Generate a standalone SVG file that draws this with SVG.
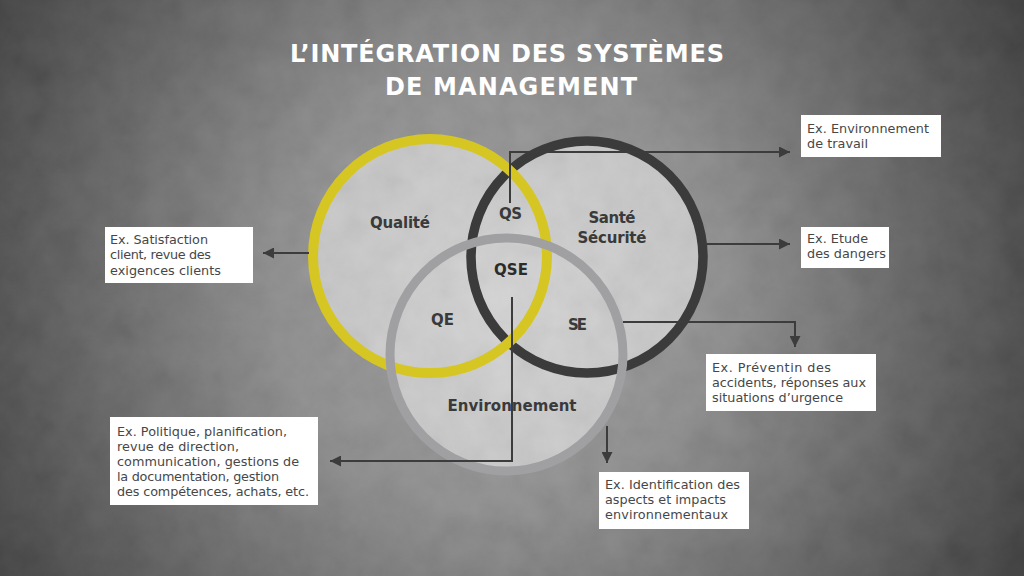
<svg xmlns="http://www.w3.org/2000/svg" width="1024" height="576" viewBox="0 0 1024 576">
<defs>
<radialGradient id="bg" gradientUnits="userSpaceOnUse" cx="500" cy="290" r="640">
<stop offset="0" stop-color="#9a9a9a"/>
<stop offset="0.35" stop-color="#888888"/>
<stop offset="0.65" stop-color="#5a5a5a"/>
<stop offset="1" stop-color="#262626"/>
</radialGradient>
<radialGradient id="cf" gradientUnits="userSpaceOnUse" cx="510" cy="300" r="220">
<stop offset="0" stop-color="#d4d4d4"/>
<stop offset="1" stop-color="#c4c4c4"/>
</radialGradient>
<filter id="noise" x="0" y="0" width="100%" height="100%">
<feTurbulence type="fractalNoise" baseFrequency="0.035" numOctaves="5" seed="7"/>
<feColorMatrix type="matrix" values="0.33 0.33 0.33 0 0  0.33 0.33 0.33 0 0  0.33 0.33 0.33 0 0  0 0 0 0 0.14"/>
</filter>
<marker id="arrow" markerUnits="userSpaceOnUse" markerWidth="11" markerHeight="11" refX="10" refY="5" orient="auto" viewBox="0 0 10 10">
<path d="M0,0 L10,5 L0,10 z" fill="#3c3c3c"/>
</marker>
<style>
.title{font-family:"DejaVu Sans","Liberation Sans",sans-serif;font-weight:bold;font-size:24px;fill:#ffffff;}
.lbl{font-family:"DejaVu Sans","Liberation Sans",sans-serif;font-weight:bold;font-size:15px;fill:#3a3a3a;text-anchor:middle;}
.ring{fill:none;}
.box{fill:#ffffff;}
.bt{font-family:"DejaVu Sans","Liberation Sans",sans-serif;font-size:12.8px;fill:#474747;}
.conn{fill:none;stroke:#3c3c3c;stroke-width:2;}
</style>
</defs>

<rect width="1024" height="576" fill="url(#bg)"/>

<g id="circle-fills">
<circle cx="430" cy="256" r="117" fill="url(#cf)"/>
<circle cx="587" cy="257" r="116" fill="url(#cf)"/>
<circle cx="506.5" cy="354.5" r="116.5" fill="url(#cf)"/>
</g>

<rect width="1024" height="576" filter="url(#noise)"/>

<g id="title">
<text class="title" x="507" y="62" text-anchor="middle" textLength="434">L’INTÉGRATION DES SYSTÈMES</text>
<text class="title" x="511" y="95" text-anchor="middle" textLength="252">DE MANAGEMENT</text>
</g>

<g id="sante-securite">
<circle class="ring" cx="587" cy="257" r="116" stroke="#3b3b3c" stroke-width="9.5"/>
<text class="lbl" x="612" y="223" textLength="47">Santé</text>
<text class="lbl" x="612" y="243" textLength="69">Sécurité</text>
</g>

<g id="qualite">
<circle class="ring" cx="430" cy="256" r="117" stroke="#d6c623" stroke-width="10"/>
<text class="lbl" x="400" y="228" textLength="60">Qualité</text>
</g>

<g id="environnement">
<circle class="ring" cx="506.5" cy="354.5" r="116.5" stroke="#a0a0a3" stroke-width="9"/>
<text class="lbl" x="512" y="411" textLength="129">Environnement</text>
</g>

<g id="qs"><text class="lbl" x="510.5" y="219" textLength="23">QS</text></g>
<g id="qse"><text class="lbl" x="511" y="275" textLength="34" style="fill:#2b2b2b;font-weight:900">QSE</text></g>
<g id="qe"><text class="lbl" x="442.5" y="325" textLength="23">QE</text></g>
<g id="se"><text class="lbl" x="577.5" y="330" textLength="19">SE</text></g>

<g id="connectors">
<path class="conn" d="M510,203 V152 H790" marker-end="url(#arrow)"/>
<path class="conn" d="M704,244 H790" marker-end="url(#arrow)"/>
<path class="conn" d="M309,253 H263" marker-end="url(#arrow)"/>
<path class="conn" d="M623,322 H795 V347" marker-end="url(#arrow)"/>
<path class="conn" d="M607,426 V463" marker-end="url(#arrow)"/>
<path class="conn" d="M512,297 V461 H330" marker-end="url(#arrow)"/>
</g>

<g id="box-environnement-travail">
<rect class="box" x="801" y="115" width="140" height="42"/>
<text class="bt" x="807" y="133" textLength="122">Ex. Environnement</text>
<text class="bt" x="807" y="148" textLength="61">de travail</text>
</g>

<g id="box-etude-dangers">
<rect class="box" x="801" y="227" width="88" height="41"/>
<text class="bt" x="807" y="243">Ex. Etude</text>
<text class="bt" x="807" y="258" textLength="79">des dangers</text>
</g>

<g id="box-prevention">
<rect class="box" x="706" y="354" width="170" height="57"/>
<text class="bt" x="712" y="372" textLength="119">Ex. Préventin des</text>
<text class="bt" x="712" y="387" textLength="154">accidents, réponses aux</text>
<text class="bt" x="712" y="402" textLength="131">situations d’urgence</text>
</g>

<g id="box-identification">
<rect class="box" x="599" y="472" width="150" height="57"/>
<text class="bt" x="605" y="489" textLength="135">Ex. Identification des</text>
<text class="bt" x="605" y="504" textLength="121">aspects et impacts</text>
<text class="bt" x="605" y="519" textLength="123">environnementaux</text>
</g>

<g id="box-satisfaction">
<rect class="box" x="105" y="227" width="148" height="56"/>
<text class="bt" x="110" y="244" textLength="98">Ex. Satisfaction</text>
<text class="bt" x="110" y="259" textLength="101">client, revue des</text>
<text class="bt" x="110" y="275" textLength="111">exigences clients</text>
</g>

<g id="box-politique">
<rect class="box" x="110" y="417" width="208" height="88"/>
<text class="bt" x="117" y="436" textLength="170">Ex. Politique, planification,</text>
<text class="bt" x="117" y="451" textLength="122">revue de direction,</text>
<text class="bt" x="117" y="466" textLength="182">communication, gestions de</text>
<text class="bt" x="117" y="481" textLength="162">la documentation, gestion</text>
<text class="bt" x="117" y="496" textLength="192">des compétences, achats, etc.</text>
</g>
</svg>
